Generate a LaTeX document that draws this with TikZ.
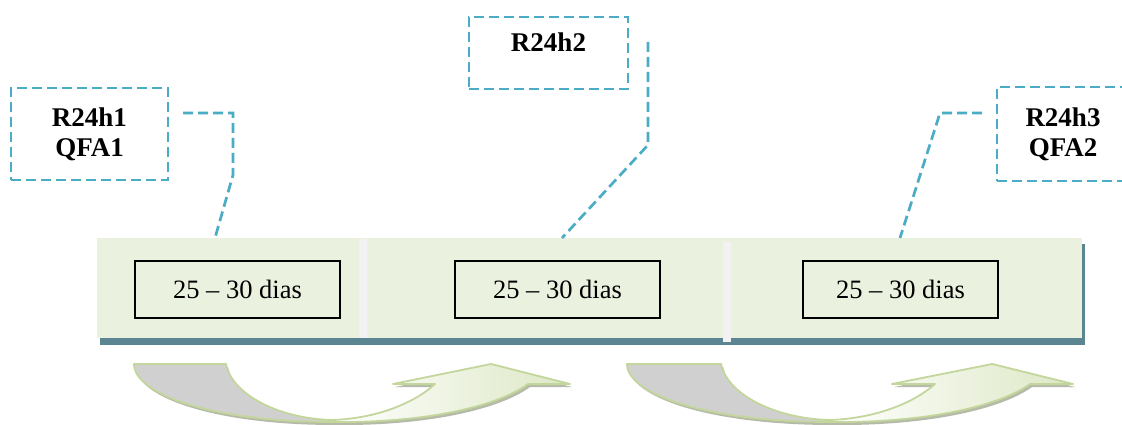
\documentclass[tikz,border=0pt]{standalone}
\usepackage{fontspec}
\setmainfont{Liberation Serif}
\definecolor{barfill}{HTML}{EAF1DE}
\definecolor{barshadow}{HTML}{5B8691}
\definecolor{divgray}{HTML}{F2F2F2}
\definecolor{calloutblue}{HTML}{4BACC6}
\definecolor{arrowline}{HTML}{C3D69B}
\definecolor{arrowgray}{HTML}{D0D0D0}
\definecolor{arrowgreen}{HTML}{DCE7C4}
\definecolor{arrowshade}{HTML}{A4AA94}
% U-turn arrow outline (tail on the left, head on the right)
\newcommand\uturnpath{(134,364) .. controls (134,394) and (212,422) .. (333,422)
  .. controls (430,423) and (500,405) .. (528,384) -- (570,384) -- (491,364)
  -- (393,384) -- (435,384) .. controls (418,400) and (382,418) .. (333,420)
  .. controls (280,419) and (232,395) .. (226,364) -- cycle}
\newcommand\uturnarrow{%
  \fill[arrowshade, opacity=.8, shift={(2,3)}] \uturnpath;
  \begin{scope}
    \clip \uturnpath;
    \fill[arrowgray] (120,350) rectangle (333,430);
    \fill[left color=white, right color=arrowgreen] (333,350) rectangle (575,430);
  \end{scope}
  \draw[arrowline, line width=1.8pt, line join=round] \uturnpath;}
\begin{document}
\begin{tikzpicture}[x=1pt,y=-1pt,
  daybox/.style={draw=black, line width=1.4pt, fill=barfill, minimum height=57pt,
    inner sep=0pt, font=\fontsize{26.5}{30}\selectfont},
  callout/.style={draw=calloutblue, line width=2.7pt, dash pattern=on 10pt off 5pt,
    align=center, inner sep=0pt, font=\bfseries\fontsize{27}{30}\selectfont},
  leader/.style={draw=calloutblue, line width=2.7pt, dash pattern=on 10pt off 5pt}]
\useasboundingbox (0,0) rectangle (1122,425);
\clip (0,0) rectangle (1122,425);
\fill[white] (0,0) rectangle (1122,425);

% timeline bar with its shadow and dividers
\fill[barshadow] (100,244) rectangle (1085,345);
\fill[barfill] (97,238) rectangle (1082,338);
\fill[divgray] (359,239) rectangle (367,338);
\fill[divgray] (723,242) rectangle (731,342);

% periods
\node[daybox, minimum width=205pt] (d1) at (237.5,289.5) {25 -- 30 dias};
\node[daybox, minimum width=205pt] (d2) at (557.5,289.5) {25 -- 30 dias};
\node[daybox, minimum width=195pt] (d3) at (900.5,289.5) {25 -- 30 dias};

% callouts
\node[callout, minimum width=157pt, minimum height=92pt] (c1) at (89.5,134) {R24h1\\QFA1};
\node[callout, minimum width=159pt, text height=35pt, text depth=37pt, anchor=base] (c2) at (548.5,52) {R24h2};
\node[callout, minimum width=132pt, minimum height=94pt] (c3) at (1063,134) {R24h3\\QFA2};

% callout leaders
\coordinate (l1a) at (183,113);
\coordinate (l1b) at (233,113);
\coordinate (l1c) at (233,175);
\coordinate (l1d) at (215,238);
\draw[leader] (l1a) -- (l1b) -- (l1c) -- (l1d);
\coordinate (l2a) at (648,42);
\coordinate (l2b) at (648,145);
\coordinate (l2c) at (562,238);
\draw[leader] (l2a) -- (l2b) -- (l2c);
\coordinate (l3a) at (982,113);
\coordinate (l3b) at (940,113);
\coordinate (l3c) at (900,238);
\draw[leader] (l3a) -- (l3b) -- (l3c);

% cycle arrows
\begin{scope}
  \uturnarrow
\end{scope}
\begin{scope}[shift={(627,0)}, xscale=1.023, shift={(-134,0)}]
  \uturnarrow
\end{scope}
\end{tikzpicture}
\end{document}
